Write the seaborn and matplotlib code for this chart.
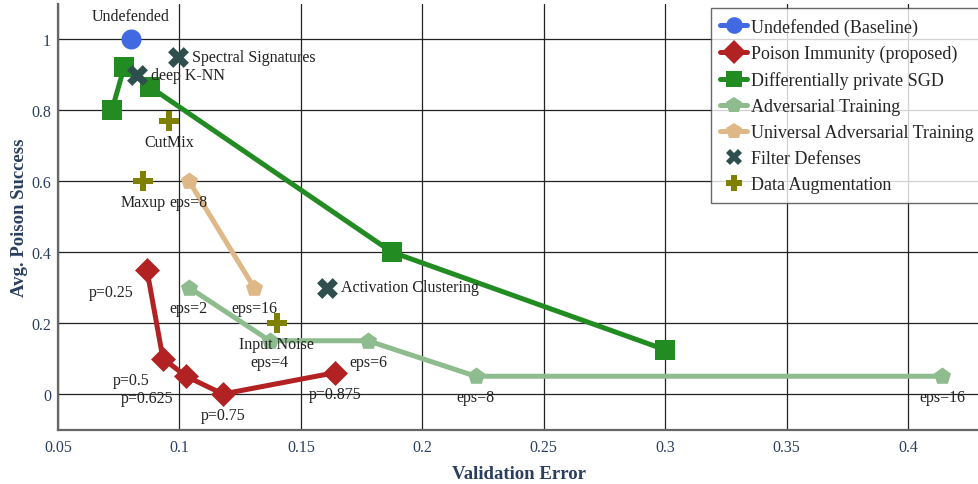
"""
Poison success vs. validation error for several defenses.
"""

import matplotlib
matplotlib.use("Agg")
import matplotlib.pyplot as plt
from matplotlib.lines import Line2D
import seaborn as sns
import pandas as pd

# ---- data ----
undef_x = [0.080]
undef_y = [1.0]
undef_labels = ["Undefended"]

immune_x = [0.0866, 0.0932, 0.1027, 0.1179, 0.1640]
immune_y = [0.35, 0.10, 0.05, 0.0, 0.06]
immune_labels = ["p=0.25", "p=0.5", "p=0.625", "p=0.75", "p=0.875"]

dpsgd_x = [0.0722, 0.0772, 0.0879, 0.1874, 0.2998]
dpsgd_y = [0.80, 0.92, 0.865, 0.40, 0.125]

adv_x = [0.1039, 0.1372, 0.1776, 0.2220, 0.4140]
adv_y = [0.30, 0.15, 0.15, 0.05, 0.05]
adv_labels = ["eps=2", "eps=4", "eps=6", "eps=8", "eps=16"]

uat_x = [0.1039, 0.1307]
uat_y = [0.60, 0.30]
uat_labels = ["eps=8", "eps=16"]

filter_x = [0.0994, 0.0825, 0.1607]
filter_y = [0.95, 0.90, 0.30]
filter_labels = ["Spectral Signatures", "deep K-NN", "Activation Clustering"]

aug_x = [0.0957, 0.0850, 0.1401]
aug_y = [0.77, 0.60, 0.20]
aug_labels = ["CutMix", "Maxup", "Input Noise"]

sns.set_theme(style="white")
plt.rcParams["font.family"] = ["Liberation Serif", "DejaVu Serif"]

fig = plt.figure(figsize=(9.79, 4.85), dpi=100)
W, H = 979, 485
ax = fig.add_axes([58 / W, 1 - 430.5 / H, 923 / W, 426 / H])

# plotly-like text positions -> pixel offsets
OFFSETS = {
    "top center": ((0, 23), "center", "center"),
    "middle right": ((14, 0), "left", "center"),
    "bottom center": ((0, -21), "center", "center"),
    "bottom left": ((-13, -22), "right", "center"),
}


def add_labels(xs, ys, labels, pos):
    for x, y, t, p in zip(xs, ys, labels, pos):
        (dx, dy), ha, va = OFFSETS[p]
        ax.annotate(t, (x, y), xytext=(dx, dy), textcoords="offset pixels",
                    ha=ha, va=va, fontsize=11.5, color="#222222", zorder=10)


series = [
    ("Undefended (Baseline)", undef_x, undef_y, "#4169E1", "o", 14.4, True),
    ("Poison Immunity (proposed)", immune_x, immune_y, "#B22222", "D", 12.7, True),
    ("Differentially private SGD", dpsgd_x, dpsgd_y, "#228B22", "s", 14.4, True),
    ("Adversarial Training", adv_x, adv_y, "#8FBC8F", "p", 13, True),
    ("Universal Adversarial Training", uat_x, uat_y, "#DEB887", "p", 13, True),
    ("Filter Defenses", filter_x, filter_y, "#2F4F4F", "X", 15, False),
    ("Data Augmentation", aug_x, aug_y, "#808000", "P", 15, False),
]

handles = []
for i, (name, xs, ys, col, mk, ms, line) in enumerate(series):
    df = pd.DataFrame({"x": xs, "y": ys})
    if line and len(xs) > 1:
        sns.lineplot(data=df, x="x", y="y", sort=False, color=col,
                     linewidth=3.6, ax=ax, zorder=3 + i)
    sns.scatterplot(data=df, x="x", y="y", marker=mk, s=ms ** 2, color=col,
                    edgecolor=col, linewidth=0, ax=ax, zorder=3 + i)
    handles.append(Line2D([0], [0], color=col, linewidth=3.6 if line else 0,
                          marker=mk, markersize=12, markeredgewidth=0,
                          label=name))

add_labels(undef_x, undef_y, undef_labels, ["top center"])
add_labels(immune_x, immune_y, immune_labels,
           ["bottom left", "bottom left", "bottom left",
            "bottom center", "bottom center"])
add_labels(adv_x, adv_y, adv_labels, ["bottom center"] * 5)
add_labels(uat_x, uat_y, uat_labels, ["bottom center"] * 2)
add_labels(filter_x, filter_y, filter_labels, ["middle right"] * 3)
add_labels(aug_x, aug_y, aug_labels, ["bottom center"] * 3)

ax.set_xlim(0.05, 0.43)
ax.set_ylim(-0.1, 1.1)
ax.set_xticks([0.05, 0.1, 0.15, 0.2, 0.25, 0.3, 0.35, 0.4])
ax.set_xticklabels(["0.05", "0.1", "0.15", "0.2", "0.25", "0.3", "0.35", "0.4"])
ax.set_yticks([0, 0.2, 0.4, 0.6, 0.8, 1.0])
ax.set_yticklabels(["0", "0.2", "0.4", "0.6", "0.8", "1"])
ax.grid(True, color="#222222", linewidth=0.9)
ax.tick_params(axis="both", length=0, labelsize=11.5, labelcolor="#2a3f5f")
ax.tick_params(axis="x", pad=7)
ax.tick_params(axis="y", pad=5)
for s in ["top", "right"]:
    ax.spines[s].set_visible(False)
for s in ["left", "bottom"]:
    ax.spines[s].set_color("#666666")
    ax.spines[s].set_linewidth(1.6)

ax.set_xlabel("Validation Error", fontsize=13.5, fontweight="bold",
              color="#2a3f5f", labelpad=7)
ax.set_ylabel("Avg. Poison Success", fontsize=13.5, fontweight="bold",
              color="#2a3f5f", labelpad=2)

leg = ax.legend(handles=handles, loc="upper left", bbox_to_anchor=(0.707, 0.99),
                fontsize=13, frameon=True, fancybox=False, borderpad=0.55,
                handlelength=1.45, labelspacing=0.5, handletextpad=0.25,
                borderaxespad=0)
leg.get_frame().set_edgecolor("#444444")
leg.get_frame().set_linewidth(1.0)
leg.set_zorder(20)

plt.savefig("out.png", dpi=100)
